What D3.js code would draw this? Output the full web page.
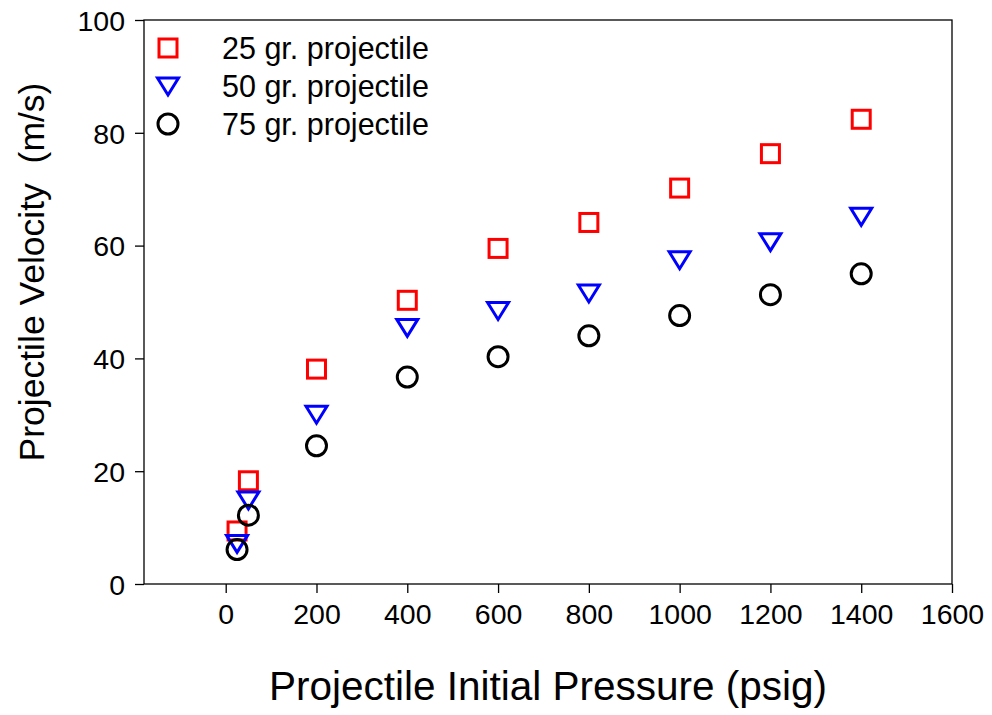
<!DOCTYPE html>
<html>
<head>
<meta charset="utf-8">
<script src="https://cdn.jsdelivr.net/npm/d3@7"></script>
<style>
  body { margin: 0; background: #fff; }
  svg text { font-family: Arial, "Liberation Sans", sans-serif; fill: #000; }
</style>
</head>
<body>
<svg id="chart" width="992" height="715"></svg>
<script>
// data
var pressure = [25, 50, 200, 400, 600, 800, 1000, 1200, 1400];
var vel25 = [9.4, 18.3, 38.1, 50.3, 59.5, 64.1, 70.2, 76.3, 82.4];
var vel50 = [7.2, 14.9, 30.1, 45.5, 48.5, 51.6, 57.5, 60.7, 65.2];
var vel75 = [6.1, 12.2, 24.5, 36.7, 40.3, 44.0, 47.6, 51.3, 55.0];
var xTicks = [0, 200, 400, 600, 800, 1000, 1200, 1400, 1600];
var yTicks = [0, 20, 40, 60, 80, 100];
var seriesNames = ["25 gr. projectile", "50 gr. projectile", "75 gr. projectile"];

var svg = d3.select("#chart");
var m = { left: 144, right: 952, top: 20, bottom: 584 };

var x = d3.scaleLinear().domain([-180, 1600]).range([m.left, m.right]);
var y = d3.scaleLinear().domain([0, 100]).range([m.bottom, m.top]);

// frame
svg.append("rect")
  .attr("x", m.left).attr("y", m.top)
  .attr("width", m.right - m.left).attr("height", m.bottom - m.top)
  .attr("fill", "none").attr("stroke", "#000").attr("stroke-width", 1.3);

// axes
var xAxis = svg.append("g")
  .attr("transform", "translate(0," + m.bottom + ")")
  .call(d3.axisBottom(x).tickValues(xTicks).tickFormat(d3.format("d"))
    .tickSize(9).tickPadding(11).tickSizeOuter(0));
var yAxis = svg.append("g")
  .attr("transform", "translate(" + m.left + ",0)")
  .call(d3.axisLeft(y).tickValues(yTicks).tickFormat(d3.format("d"))
    .tickSize(9).tickPadding(10).tickSizeOuter(0));

[xAxis, yAxis].forEach(function(g) {
  g.select(".domain").remove();
  g.selectAll(".tick line").attr("stroke", "#000").attr("stroke-width", 1.3);
  g.selectAll(".tick text")
    .attr("font-size", 28.5)
    .attr("font-family", "Arial, 'Liberation Sans', sans-serif")
    .attr("fill", "#000");
});
yAxis.selectAll(".tick text").attr("dy", "0.36em");

// axis titles
svg.append("text")
  .attr("x", (m.left + m.right) / 2).attr("y", 700)
  .attr("text-anchor", "middle").attr("font-size", 40.5)
  .text("Projectile Initial Pressure (psig)");
svg.append("text")
  .attr("transform", "translate(44,272) rotate(-90)")
  .attr("text-anchor", "middle").attr("font-size", 35.5)
  .style("white-space", "pre")
  .text("Projectile Velocity  (m/s)");

// marker drawing
function square(g, cx, cy) {
  g.append("rect").attr("x", cx - 9).attr("y", cy - 9).attr("width", 18).attr("height", 18)
    .attr("fill", "none").attr("stroke", "#ff0000").attr("stroke-width", 3);
}
function triangle(g, cx, cy) {
  g.append("path")
    .attr("d", "M" + (cx - 10.5) + "," + (cy - 8) + "L" + (cx + 10.5) + "," + (cy - 8) + "L" + cx + "," + (cy + 9) + "Z")
    .attr("fill", "none").attr("stroke", "#0000ff").attr("stroke-width", 3).attr("stroke-linejoin", "miter");
}
function circle(g, cx, cy) {
  g.append("circle").attr("cx", cx).attr("cy", cy).attr("r", 10)
    .attr("fill", "none").attr("stroke", "#000").attr("stroke-width", 3);
}

var series = [
  { vals: vel25, draw: square },
  { vals: vel50, draw: triangle },
  { vals: vel75, draw: circle }
];

var pts = svg.append("g");
series.forEach(function(s) {
  pressure.forEach(function(p, i) {
    s.draw(pts, x(p), y(s.vals[i]));
  });
});

// legend
var leg = svg.append("g");
series.forEach(function(s, i) {
  var cy = 48 + i * 38;
  s.draw(leg, 168, cy);
  leg.append("text").attr("x", 222).attr("y", cy).attr("dy", "0.36em")
    .attr("font-size", 30.5).text(seriesNames[i]);
});
</script>
</body>
</html>
